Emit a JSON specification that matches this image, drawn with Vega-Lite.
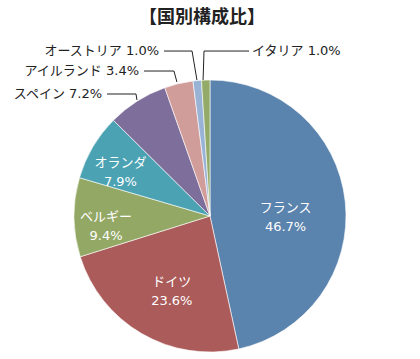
{
  "$schema": "https://vega.github.io/schema/vega-lite/v6.json",
  "width": 420,
  "height": 286,
  "autosize": {"type": "none"},
  "padding": {"left": 0, "top": 73, "right": 0, "bottom": 0},
  "background": "white",
  "config": {"view": {"stroke": null}, "font": "DejaVu Sans, Noto Sans CJK JP"},
  "title": {"text": "【国別構成比】", "fontSize": 18, "fontWeight": "bold", "font": "Noto Sans CJK JP", "color": "#222222", "anchor": "middle", "frame": "group", "baseline": "middle", "offset": 9, "dx": -8},
  "datasets": {
    "slices": [
      {"country": "フランス", "value": 46.7, "order": 1, "label": "フランス\n46.7%"},
      {"country": "ドイツ", "value": 23.6, "order": 2, "label": "ドイツ\n23.6%"},
      {"country": "ベルギー", "value": 9.4, "order": 3, "label": "ベルギー\n9.4%"},
      {"country": "オランダ", "value": 7.9, "order": 4, "label": "オランダ\n7.9%"},
      {"country": "スペイン", "value": 7.2, "order": 5, "label": "スペイン 7.2%"},
      {"country": "アイルランド", "value": 3.4, "order": 6, "label": "アイルランド 3.4%"},
      {"country": "オーストリア", "value": 1.0, "order": 7, "label": "オーストリア 1.0%"},
      {"country": "イタリア", "value": 1.0, "order": 8, "label": "イタリア 1.0%"}
    ],
    "leaders": [
      {"country": "スペイン", "i": 0, "u": -0.757, "v": 0.897, "side": "left", "label": "スペイン 7.2%"},
      {"country": "スペイン", "i": 1, "u": -0.544, "v": 0.897, "side": "left", "label": "スペイン 7.2%"},
      {"country": "スペイン", "i": 2, "u": -0.537, "v": 0.853, "side": "left", "label": "スペイン 7.2%"},
      {"country": "アイルランド", "i": 0, "u": -0.485, "v": 1.066, "side": "left", "label": "アイルランド 3.4%"},
      {"country": "アイルランド", "i": 1, "u": -0.265, "v": 1.066, "side": "left", "label": "アイルランド 3.4%"},
      {"country": "アイルランド", "i": 2, "u": -0.243, "v": 0.985, "side": "left", "label": "アイルランド 3.4%"},
      {"country": "オーストリア", "i": 0, "u": -0.338, "v": 1.213, "side": "left", "label": "オーストリア 1.0%"},
      {"country": "オーストリア", "i": 1, "u": -0.132, "v": 1.213, "side": "left", "label": "オーストリア 1.0%"},
      {"country": "オーストリア", "i": 2, "u": -0.096, "v": 1.0, "side": "left", "label": "オーストリア 1.0%"},
      {"country": "イタリア", "i": 0, "u": 0.287, "v": 1.213, "side": "right", "label": "イタリア 1.0%"},
      {"country": "イタリア", "i": 1, "u": -0.044, "v": 1.213, "side": "right", "label": "イタリア 1.0%"},
      {"country": "イタリア", "i": 2, "u": -0.051, "v": 1.0, "side": "right", "label": "イタリア 1.0%"}
    ]
  },
  "layer": [
    {
      "data": {"name": "slices"},
      "mark": {"type": "arc", "outerRadius": 136, "stroke": "#ffffff", "strokeWidth": 0.6},
      "encoding": {
        "theta": {"field": "value", "type": "quantitative", "stack": true},
        "order": {"field": "order", "type": "quantitative"},
        "color": {
          "field": "country", "type": "nominal", "legend": null,
          "scale": {
            "domain": ["フランス", "ドイツ", "ベルギー", "オランダ", "スペイン", "アイルランド", "オーストリア", "イタリア"],
            "range": ["#5A83AD", "#AB5B59", "#93A865", "#4AA2B3", "#7E6E9B", "#D09D9B", "#98B3D5", "#93AA68"]
          }
        }
      }
    },
    {
      "data": {"name": "slices"},
      "mark": {"type": "text", "radius": 76, "fill": "white", "fontSize": 13, "lineBreak": "\n", "lineHeight": 19, "baseline": "middle", "align": "center"},
      "encoding": {
        "theta": {"field": "value", "type": "quantitative", "stack": true},
        "order": {"field": "order", "type": "quantitative"},
        "text": {"condition": {"test": "indexof(['フランス','ドイツ'], datum.country) >= 0", "field": "label"}, "value": ""}
      }
    },
    {
      "data": {"name": "slices"},
      "mark": {"type": "text", "radius": 104, "fill": "white", "fontSize": 13, "lineBreak": "\n", "lineHeight": 19, "baseline": "middle", "align": "center"},
      "encoding": {
        "theta": {"field": "value", "type": "quantitative", "stack": true},
        "order": {"field": "order", "type": "quantitative"},
        "text": {"condition": {"test": "indexof(['ベルギー','オランダ'], datum.country) >= 0", "field": "label"}, "value": ""}
      }
    },
    {
      "data": {"name": "leaders"},
      "mark": {"type": "line", "stroke": "#222222", "strokeWidth": 1},
      "encoding": {
        "x": {"field": "u", "type": "quantitative", "axis": null, "scale": {"domain": [-1.5441, 1.5441], "nice": false, "zero": false}},
        "y": {"field": "v", "type": "quantitative", "axis": null, "scale": {"domain": [-1.0515, 1.0515], "nice": false, "zero": false}},
        "detail": {"field": "country"},
        "order": {"field": "i", "type": "quantitative"}
      }
    },
    {
      "data": {"name": "leaders"},
      "transform": [{"filter": "datum.i == 0 && datum.side == 'left'"}],
      "mark": {"type": "text", "align": "right", "baseline": "middle", "dx": -5, "fontSize": 13, "fill": "#222222"},
      "encoding": {
        "x": {"field": "u", "type": "quantitative"},
        "y": {"field": "v", "type": "quantitative"},
        "text": {"field": "label"}
      }
    },
    {
      "data": {"name": "leaders"},
      "transform": [{"filter": "datum.i == 0 && datum.side == 'right'"}],
      "mark": {"type": "text", "align": "left", "baseline": "middle", "dx": 3, "fontSize": 13, "fill": "#222222"},
      "encoding": {
        "x": {"field": "u", "type": "quantitative"},
        "y": {"field": "v", "type": "quantitative"},
        "text": {"field": "label"}
      }
    }
  ]
}
